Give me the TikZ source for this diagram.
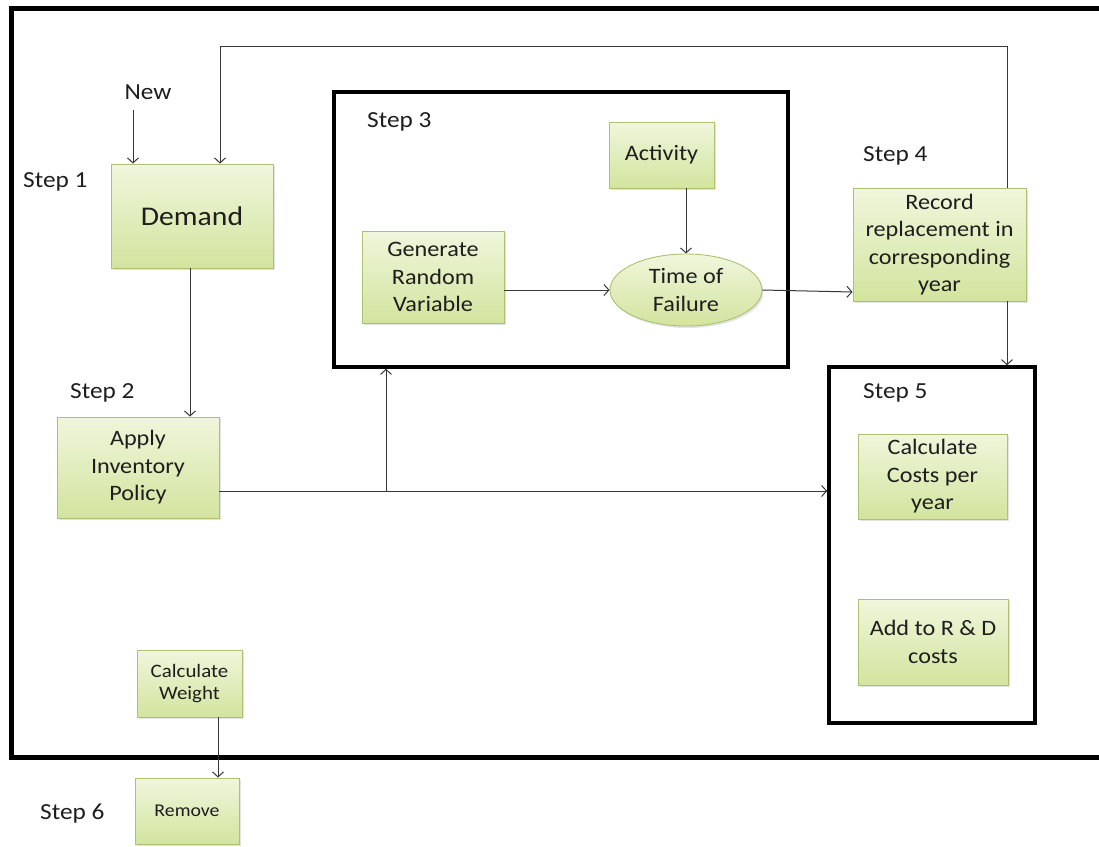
\documentclass[tikz,border=0pt]{standalone}
\usepackage{fontspec}
\setmainfont{Carlito}[FakeStretch=1.1]
\usetikzlibrary{arrows.meta,shapes.geometric,shadows}

\definecolor{boxtop}{RGB}{240,246,220}
\definecolor{boxbot}{RGB}{211,228,158}
\definecolor{boxline}{RGB}{172,194,112}
\definecolor{linec}{RGB}{55,55,55}
\definecolor{txt}{RGB}{30,30,30}

\tikzset{
  box/.style={draw=boxline, line width=0.9pt, top color=boxtop, bottom color=boxbot,
    align=center, inner sep=0pt, text=txt,
    drop shadow={opacity=0.22, shadow xshift=1.5pt, shadow yshift=-2pt},
    font=\fontsize{22}{27.5}\selectfont},
  frame/.style={draw=black, line width=3.5pt, inner sep=0pt},
  conn/.style={draw=linec, line width=1pt, -{Straight Barb[length=5pt,width=11pt]}},
  plain/.style={draw=linec, line width=1pt},
  steplabel/.style={anchor=base west, inner sep=0pt, text=txt,
    font=\fontsize{23}{27}\selectfont},
}

\begin{document}
\begin{tikzpicture}[x=1pt,y=-1pt]
\useasboundingbox (0,0) rectangle (1099,846);
\clip (0,0) rectangle (1099,846);
\fill[white] (0,0) rectangle (1099,846);

% outer frame (its right side runs off the page)
\draw[line width=5pt] (1110,8.5) -- (11,8.5) -- (11,757) -- (1110,757);

% step frames
\node[frame, minimum width=454pt, minimum height=275pt] (s3) at (561,229.5) {};
\node[frame, minimum width=206pt, minimum height=356pt] (s5) at (932,545) {};

% process boxes
\node[box, minimum width=162pt, minimum height=104pt, font=\fontsize{27}{32}\selectfont] (dem) at (192,216) {Demand};
\node[box, minimum width=162pt, minimum height=101pt] (app) at (138,467.5) {Apply\\Inventory\\Policy};
\node[box, minimum width=142pt, minimum height=92pt] (gen) at (433,277) {Generate\\Random\\Variable};
\node[box, minimum width=105pt, minimum height=66pt] (act) at (661.5,155) {Activity};
\node[box, ellipse, minimum width=152pt, minimum height=72pt] (tof) at (686,290) {Time of\\Failure};
\node[box, minimum width=173pt, minimum height=113pt] (rec) at (939.5,244.5) {Record\\replacement in\\corresponding\\year};
\node[box, minimum width=149pt, minimum height=85pt] (cpy) at (932.5,476.5) {Calculate\\Costs per\\year};
\node[box, minimum width=150pt, minimum height=86pt] (rnd) at (933,642) {Add to R \& D\\costs};
\node[box, minimum width=105pt, minimum height=67pt, font=\fontsize{19}{22.5}\selectfont] (cw) at (189.5,683.5) {Calculate\\Weight};
\node[box, minimum width=104pt, minimum height=66pt, font=\fontsize{18}{22}\selectfont] (rm) at (187,811) {Remove};

% labels
\node[inner sep=0pt, text=txt, font=\fontsize{23}{27}\selectfont] (new) at (148,92) {New};
\node[steplabel] (l1) at (23,187) {Step 1};
\node[steplabel] (l2) at (70,398) {Step 2};
\node[steplabel] (l3) at (367,127) {Step 3};
\node[steplabel] (l4) at (863,161) {Step 4};
\node[steplabel] (l5) at (863,398) {Step 5};
\node[steplabel] (l6) at (40,819) {Step 6};

% helper points
\coordinate (nw) at (133,110);
\coordinate (fbr) at (1007,46);
\coordinate (fbl) at (220,46);
\coordinate (jn) at (386,491);
\coordinate (cwx) at (218,700);

% connectors
\draw[conn] (nw) -- (nw |- dem.north);
\draw[conn] (rec.north -| fbr) -- (fbr) -- (fbl) -- (fbl |- dem.north);
\draw[conn] (dem.south -| 190,0) -- (app.north -| 190,0);
\draw[conn] (app.east |- jn) -- (s5.west |- jn);
\draw[conn] (jn) -- (jn |- s3.south);
\draw[conn] (gen.east |- tof.west) -- (tof.west);
\draw[conn] (act.south -| tof.north) -- (tof.north);
\draw[conn] (tof.east) -- (rec.west |- 0,292);
\draw[conn] (rec.south -| fbr) -- (s5.north -| fbr);
\draw[conn] (cw.south -| cwx) -- (rm.north -| cwx);
\end{tikzpicture}
\end{document}
